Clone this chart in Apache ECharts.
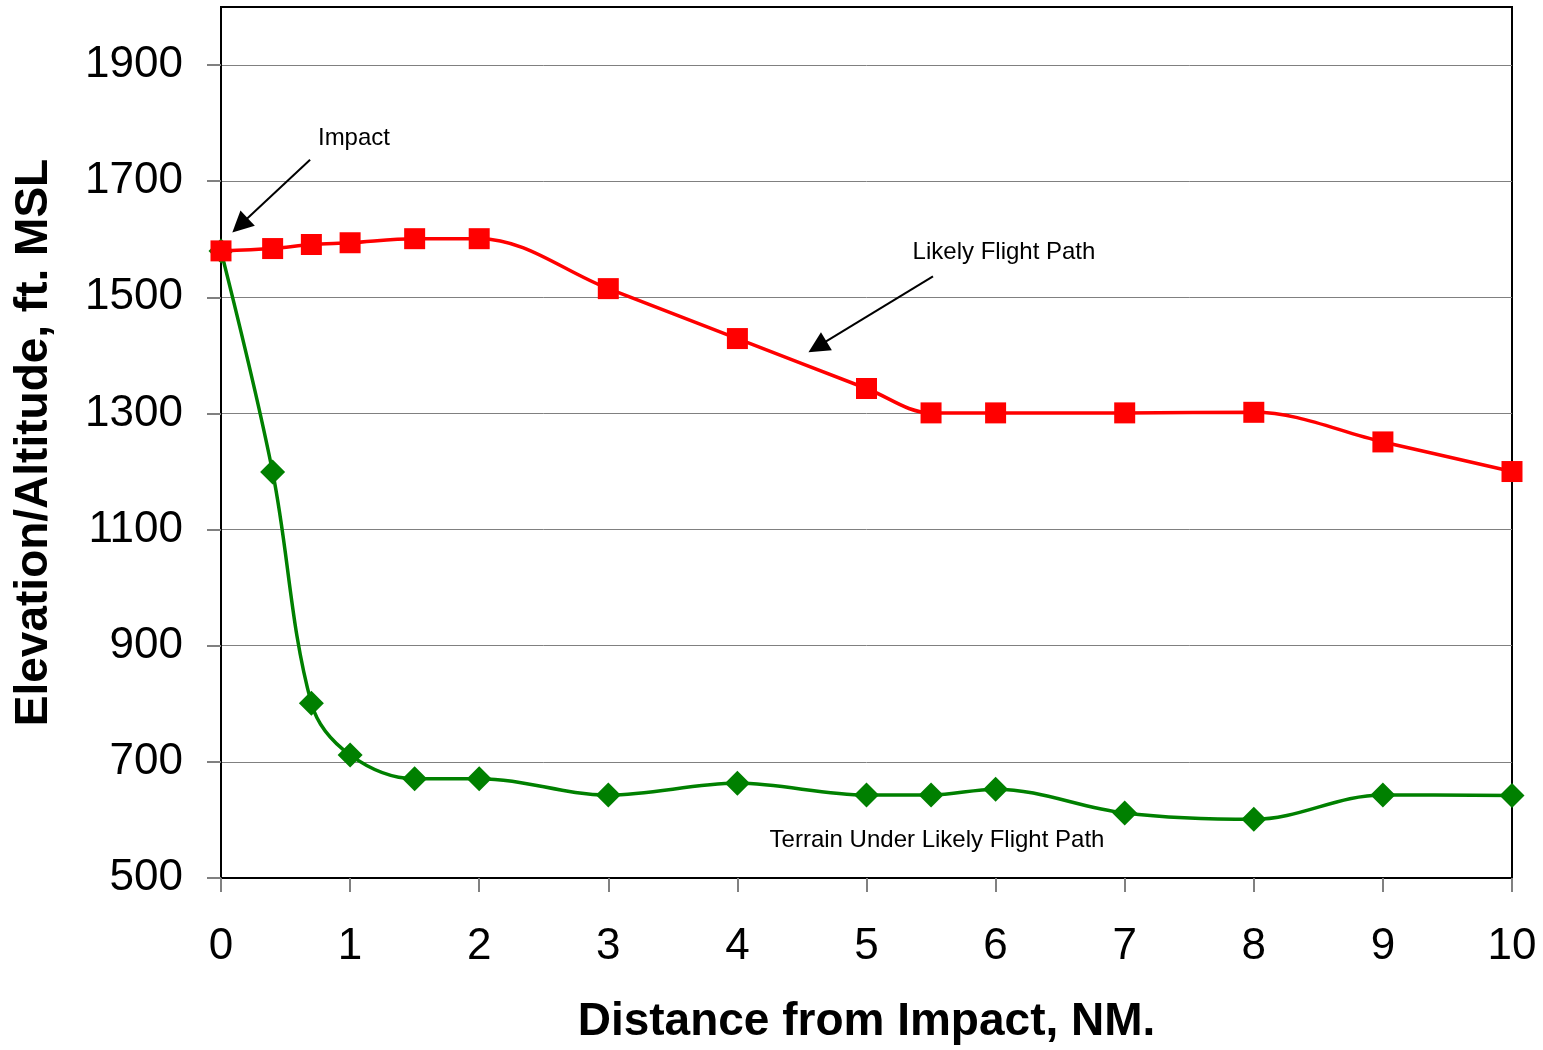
<!DOCTYPE html>
<html>
<head>
<meta charset="utf-8">
<script src="https://cdn.jsdelivr.net/npm/echarts@6/dist/echarts.min.js"></script>
<style>
    html, body { margin: 0; padding: 0; background: #fff; }
    #chart { width: 1543px; height: 1050px; }
</style>
</head>
<body>
<div id="chart"></div>
<script>
    // distances from impact, NM
    let distances = [0, 0.4, 0.7, 1, 1.5, 2, 3, 4, 5, 5.5, 6, 7, 8, 9, 10];
    // likely flight path altitude, ft MSL
    let flightPath = [1580, 1584, 1591, 1594, 1601, 1601, 1515, 1429, 1343, 1301, 1301, 1301, 1302, 1251, 1200];
    // terrain elevation under the path, ft MSL
    let terrain = [1580, 1199, 801, 712, 671, 671, 643, 663, 643, 643, 653, 612, 601, 643, 642];
    let xTicks = [0, 1, 2, 3, 4, 5, 6, 7, 8, 9, 10];
    let yTicks = [500, 700, 900, 1100, 1300, 1500, 1700, 1900];

    let font = "'Liberation Sans', Arial, sans-serif";

    function pairs(xs, ys) {
        return xs.map(function (x, i) {
            return [x, ys[i]];
        });
    }

    let chart = echarts.init(document.getElementById('chart'), null, {renderer: 'canvas'});

    let option = {
        animation: false,
        backgroundColor: '#fff',
        grid: {
            left: 221,
            right: 31,
            top: 7,
            bottom: 170,
            show: true,
            borderColor: '#000',
            borderWidth: 2,
            backgroundColor: 'transparent'
        },
        xAxis: {
            type: 'value',
            min: 0,
            max: 10,
            interval: 1,
            name: 'Distance from Impact, NM.',
            nameLocation: 'middle',
            nameGap: 121,
            nameTextStyle: {fontFamily: font, fontSize: 46, fontWeight: 'bold', color: '#000'},
            axisLine: {show: true, lineStyle: {color: '#000', width: 2}},
            axisTick: {show: true, length: 14, customValues: xTicks, lineStyle: {color: '#808080', width: 2}},
            axisLabel: {fontFamily: font, fontSize: 44, color: '#000', margin: 47, customValues: xTicks},
            splitLine: {show: false}
        },
        yAxis: {
            type: 'value',
            min: 500,
            max: 2000,
            interval: 100,
            name: 'Elevation/Altitude, ft. MSL',
            nameLocation: 'middle',
            nameGap: 164,
            nameTextStyle: {fontFamily: font, fontSize: 46, fontWeight: 'bold', color: '#000'},
            axisLine: {show: true, lineStyle: {color: '#000', width: 2}},
            axisTick: {show: true, length: 14, customValues: yTicks, lineStyle: {color: '#808080', width: 2}},
            axisLabel: {
                fontFamily: font, fontSize: 44, color: '#000', margin: 38, customValues: yTicks,
                formatter: function (v) { return String(v); }
            },
            splitLine: {show: true, lineStyle: {color: '#808080', width: 1}}
        },
        series: [
            {
                name: 'Terrain Under Likely Flight Path',
                type: 'line',
                data: pairs(distances, terrain),
                smooth: 0.35,
                symbol: 'diamond',
                symbolSize: 25,
                lineStyle: {color: '#008000', width: 3.5},
                itemStyle: {color: '#008000'},
                z: 3
            },
            {
                name: 'Likely Flight Path',
                type: 'line',
                data: pairs(distances, flightPath),
                smooth: 0.35,
                symbol: 'rect',
                symbolSize: 21,
                lineStyle: {color: '#ff0000', width: 3.5},
                itemStyle: {color: '#ff0000'},
                z: 4
            },
            {
                // annotations: labels and arrows in data space
                type: 'line',
                data: [],
                silent: true,
                itemStyle: {color: '#000'},
                markLine: {
                    silent: true,
                    symbol: ['none', 'triangle'],
                    symbolSize: 21,
                    label: {show: false},
                    itemStyle: {color: '#000'},
                    lineStyle: {color: '#000', width: 2, type: 'solid'},
                    emphasis: {disabled: true},
                    data: [
                        [{coord: [0.69, 1737]}, {coord: [0.147, 1624]}],
                        [{coord: [5.515, 1536]}, {coord: [4.62, 1415]}]
                    ]
                },
                markPoint: {
                    silent: true,
                    symbol: 'circle',
                    symbolSize: 0,
                    label: {
                        show: true,
                        position: 'inside',
                        fontFamily: font,
                        fontSize: 24,
                        color: '#000',
                        formatter: function (p) { return p.name; }
                    },
                    data: [
                        {name: 'Impact', coord: [1.03, 1773]},
                        {name: 'Likely Flight Path', coord: [6.065, 1577]},
                        {name: 'Terrain Under Likely Flight Path', coord: [5.546, 564]}
                    ]
                }
            }
        ]
    };

    chart.setOption(option);
</script>
</body>
</html>
